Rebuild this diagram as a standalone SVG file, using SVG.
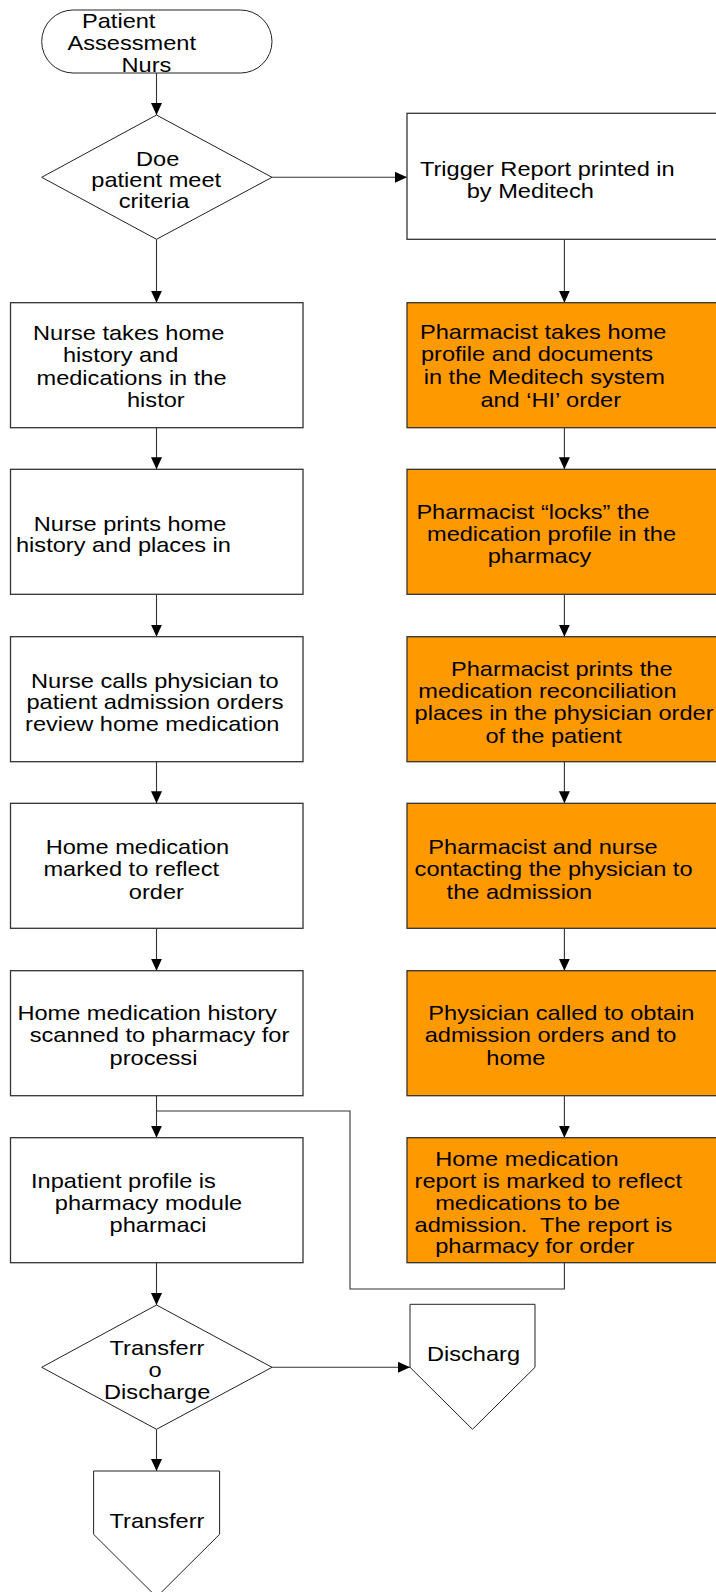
<svg xmlns="http://www.w3.org/2000/svg" width="716" height="1592" viewBox="0 0 716 1592">
<style>
text { font-family: "Liberation Sans", Arial, sans-serif; font-size: 20px; fill: #000; transform: scaleX(1.18); transform-box: fill-box; transform-origin: 0 0; white-space: pre; }
.box { fill: #fff; stroke: #333; stroke-width: 1.3; }
.org { fill: #FF9900; stroke: #333; stroke-width: 1.3; }
.shape { fill: #fff; stroke: #222; stroke-width: 1; }
.conn { fill: none; stroke: #333; stroke-width: 1.1; }
.arr { marker-end: url(#ah); }
</style>
<defs>
<marker id="ah" markerUnits="userSpaceOnUse" markerWidth="13" markerHeight="12" refX="12" refY="5.5" orient="auto">
<path d="M0,0 L12,5.5 L0,11 z" fill="#000"/>
</marker>
</defs>
<rect width="716" height="1592" fill="#fff"/>

<g id="connectors">
<line class="conn arr" x1="156.5" y1="73" x2="156.5" y2="115"/>
<line class="conn arr" x1="272" y1="177.3" x2="407" y2="177.3"/>
<line class="conn arr" x1="156.5" y1="239.3" x2="156.5" y2="302.7"/>
<line class="conn arr" x1="564.4" y1="239.3" x2="564.4" y2="302.7"/>
<line class="conn arr" x1="156.5" y1="427.7" x2="156.5" y2="469.3"/>
<line class="conn arr" x1="156.5" y1="594.3" x2="156.5" y2="636.7"/>
<line class="conn arr" x1="156.5" y1="761.7" x2="156.5" y2="803.3"/>
<line class="conn arr" x1="156.5" y1="928.3" x2="156.5" y2="970.7"/>
<line class="conn arr" x1="156.5" y1="1095.7" x2="156.5" y2="1137.7"/>
<line class="conn arr" x1="156.5" y1="1262.7" x2="156.5" y2="1305"/>
<line class="conn arr" x1="564.4" y1="427.7" x2="564.4" y2="469.3"/>
<line class="conn arr" x1="564.4" y1="594.3" x2="564.4" y2="636.7"/>
<line class="conn arr" x1="564.4" y1="761.7" x2="564.4" y2="803.3"/>
<line class="conn arr" x1="564.4" y1="928.3" x2="564.4" y2="970.7"/>
<line class="conn arr" x1="564.4" y1="1095.7" x2="564.4" y2="1137.7"/>
<polyline class="conn" points="564.4,1262.7 564.4,1289 350,1289 350,1111 156.5,1111"/>
<line class="conn arr" x1="272" y1="1367.3" x2="410" y2="1367.3"/>
<line class="conn arr" x1="156.5" y1="1429.3" x2="156.5" y2="1471"/>
</g>

<g id="start">
<rect class="shape" x="41.7" y="10" width="230.3" height="63" rx="31.5" ry="31.5"/>
<text x="82" y="28">Patient</text>
<text x="67.5" y="50.5">Assessment</text>
<text x="121.5" y="72.5">Nurs</text>
</g>

<g id="decision1">
<polygon class="shape" points="41.7,177.3 156.5,115 272,177.3 156.5,239.3"/>
<text x="136" y="166">Doe</text>
<text x="91.3" y="187.5">patient meet</text>
<text x="118.7" y="208.5">criteria</text>
</g>

<g id="trigger">
<rect class="box" x="407" y="113.3" width="315" height="126"/>
<text x="420" y="176">Trigger Report printed in</text>
<text x="466.7" y="198">by Meditech</text>
</g>

<g id="nurse1">
<rect class="box" x="10.5" y="302.7" width="292.5" height="125"/>
<text x="33" y="340">Nurse takes home</text>
<text x="63" y="362.5">history and</text>
<text x="36.5" y="385">medications in the</text>
<text x="127" y="407.5">histor</text>
</g>

<g id="pharm1">
<rect class="org" x="407" y="302.7" width="315" height="125"/>
<text x="420" y="339">Pharmacist takes home</text>
<text x="421" y="361.5">profile and documents</text>
<text x="423.7" y="384.5">in the Meditech system</text>
<text x="480.4" y="407">and ‘HI’ order</text>
</g>

<g id="nurse2">
<rect class="box" x="10.5" y="469.3" width="292.5" height="125"/>
<text x="33.8" y="531">Nurse prints home</text>
<text x="16" y="552.5">history and places in</text>
</g>

<g id="pharm2">
<rect class="org" x="407" y="469.3" width="315" height="125"/>
<text x="416.4" y="519">Pharmacist “locks” the</text>
<text x="427" y="541.3">medication profile in the</text>
<text x="487.7" y="563.5">pharmacy</text>
</g>

<g id="nurse3">
<rect class="box" x="10.5" y="636.7" width="292.5" height="125"/>
<text x="31" y="688">Nurse calls physician to</text>
<text x="26.5" y="709.5">patient admission orders</text>
<text x="25.1" y="731">review home medication</text>
</g>

<g id="pharm3">
<rect class="org" x="407" y="636.7" width="315" height="125"/>
<text x="451" y="676">Pharmacist prints the</text>
<text x="418.3" y="698.5">medication reconciliation</text>
<text x="414.6" y="720.5">places in the physician order</text>
<text x="485.4" y="743">of the patient</text>
</g>

<g id="nurse4">
<rect class="box" x="10.5" y="803.3" width="292.5" height="125"/>
<text x="45.7" y="854">Home medication</text>
<text x="43.4" y="876.5">marked to reflect</text>
<text x="128.8" y="899">order</text>
</g>

<g id="pharm4">
<rect class="org" x="407" y="803.3" width="315" height="125"/>
<text x="428.3" y="854">Pharmacist and nurse</text>
<text x="414.6" y="876.5">contacting the physician to</text>
<text x="446.6" y="899">the admission</text>
</g>

<g id="nurse5">
<rect class="box" x="10.5" y="970.7" width="292.5" height="125"/>
<text x="17.4" y="1020.5">Home medication history</text>
<text x="29.7" y="1042.5">scanned to pharmacy for</text>
<text x="109.6" y="1065">processi</text>
</g>

<g id="pharm5">
<rect class="org" x="407" y="970.7" width="315" height="125"/>
<text x="428.3" y="1020.5">Physician called to obtain</text>
<text x="424.7" y="1042.5">admission orders and to</text>
<text x="486.3" y="1065">home</text>
</g>

<g id="nurse6">
<rect class="box" x="10.5" y="1137.7" width="292.5" height="125"/>
<text x="31" y="1188">Inpatient profile is</text>
<text x="54.8" y="1210">pharmacy module</text>
<text x="109.6" y="1232">pharmaci</text>
</g>

<g id="pharm6">
<rect class="org" x="407" y="1137.7" width="315" height="125"/>
<text x="435.2" y="1166">Home medication</text>
<text x="414.6" y="1188">report is marked to reflect</text>
<text x="435.2" y="1210">medications to be</text>
<text x="414.6" y="1232">admission.  The report is</text>
<text x="435.2" y="1253.5">pharmacy for order</text>
</g>

<g id="decision2">
<polygon class="shape" points="41.7,1367.3 156.5,1305 272,1367.3 156.5,1429.3"/>
<text x="109.6" y="1355">Transferr</text>
<text x="148.4" y="1377">o</text>
<text x="104.1" y="1399.5">Discharge</text>
</g>

<g id="discharge">
<polygon class="shape" points="410,1304.3 535,1304.3 535,1367.3 472.5,1429.3 410,1367.3"/>
<text x="427" y="1361.5">Discharg</text>
</g>

<g id="transfer">
<polygon class="shape" points="93.6,1471 219.6,1471 219.6,1534.3 156.6,1597 93.6,1534.3"/>
<text x="109.6" y="1528">Transferr</text>
</g>
</svg>
